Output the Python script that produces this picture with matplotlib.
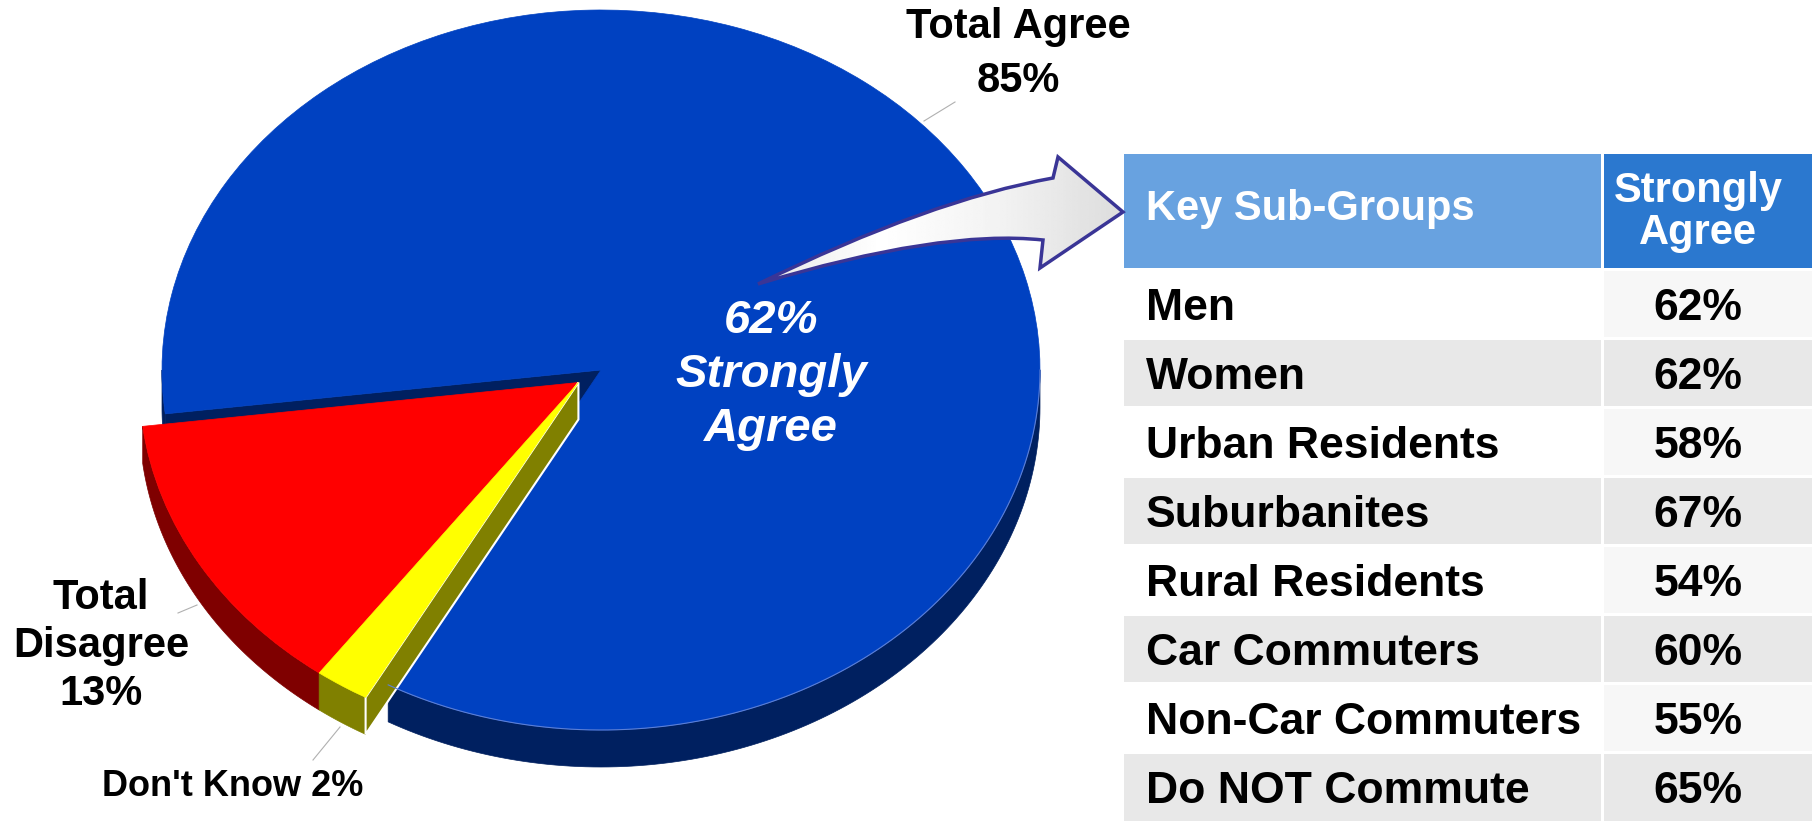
import numpy as np
import matplotlib.pyplot as plt
from matplotlib.patches import Wedge, Polygon, Rectangle, PathPatch
from matplotlib.path import Path
from matplotlib.transforms import Affine2D

plt.rcParams["font.family"] = ["Liberation Sans", "DejaVu Sans"]

# pie data
slice_labels = ["Total Agree", "Total Disagree", "Don't Know"]
slice_values = [85, 13, 2]
strongly_agree = 62

# table data
table_header = ["Key Sub-Groups", "Strongly\nAgree"]
groups = ["Men", "Women", "Urban Residents", "Suburbanites", "Rural Residents",
          "Car Commuters", "Non-Car Commuters", "Do NOT Commute"]
group_values = [62, 62, 58, 67, 54, 60, 55, 65]

top_colors = ["#0041C1", "#FF0000", "#FFFF00"]
side_colors = ["#002060", "#7F0000", "#808000"]

W, H = 1812, 821
fig = plt.figure(figsize=(W / 100, H / 100), dpi=100)
ax = fig.add_axes([0, 0, 1, 1])
ax.set_xlim(0, W)
ax.set_ylim(H, 0)
ax.axis("off")

# --- 3D-ish pie (tilted disc, pixel coords, y down) ---
cx, cy, a, b, depth = 601, 370, 439, 360, 37
start = 187
explode = 0.062


def rim(t, dx=0.0, dy=0.0):
    t = np.radians(t)
    return cx + a * np.cos(t) + dx, cy - b * np.sin(t) + dy


angles = {}
theta = start
for i in [1, 2, 0]:
    angles[i] = (theta, theta + slice_values[i] / 100 * 360)
    theta = angles[i][1]

# red + yellow pulled out together along their common bisector
mid = np.radians((angles[1][0] + angles[2][1]) / 2)
off = (explode * a * np.cos(mid), -explode * b * np.sin(mid))
offsets = {0: (0, 0), 1: off, 2: off}


def side_wall(t1, t2, dx, dy, color):
    for lo, hi in [(180, 360), (540, 720)]:
        s, e = max(t1, lo), min(t2, hi)
        if e > s:
            ts = np.linspace(s, e, 120)
            x, y = rim(ts, dx, dy)
            pts = np.column_stack([np.r_[x, x[::-1]], np.r_[y, y[::-1] + depth]])
            ax.add_patch(Polygon(pts, closed=True, fc=color, ec=color, lw=0.5))


def radial_face(t, dx, dy, color, ec=None, lw=0.5):
    x, y = rim(t, dx, dy)
    pts = [(cx + dx, cy + dy), (x, y), (x, y + depth), (cx + dx, cy + dy + depth)]
    ax.add_patch(Polygon(pts, closed=True, fc=color, ec=ec or color, lw=lw))


for i in [0, 1, 2]:
    t1, t2 = angles[i]
    dx, dy = offsets[i]
    side_wall(t1, t2, dx, dy, side_colors[i])
    # radial face at the end angle faces the viewer
    radial_face(t2 % 360, dx, dy, side_colors[i],
                ec="white" if i == 2 else None, lw=1.5 if i == 2 else 0.5)
    tr = Affine2D().scale(a, -b).translate(cx + dx, cy + dy) + ax.transData
    ax.add_patch(Wedge((0, 0), 1, t1, t2, transform=tr,
                       fc=top_colors[i], ec=top_colors[i], lw=0.5))

# thin highlight on the blue rim
ts = np.linspace(241, 360, 200)
x, y = rim(ts)
ax.plot(x, y, color="#5C7FD6", lw=0.8)

# --- pie labels ---
lbl_kw = dict(fontsize=30, fontweight="bold", ha="center", va="center", color="black")
ax.text(1018, 54, f"{slice_labels[0]}\n{slice_values[0]}%", linespacing=1.45, **lbl_kw)
ax.text(101, 646, f"{slice_labels[1].replace(' ', chr(10))}\n{slice_values[1]}%",
        linespacing=1.27, **lbl_kw)
ax.text(233, 786, f"{slice_labels[2]} {slice_values[2]}%", fontsize=26,
        fontweight="bold", ha="center", va="center", color="black")

for (x0, y0), (x1, y1) in [((955, 102), (924, 121)),
                           ((178, 613), (197, 605)),
                           ((313, 760), (340, 727))]:
    ax.plot([x0, x1], [y0, y1], color="#B0B0B0", lw=0.8)

ax.text(771, 375, f"{strongly_agree}%\nStrongly\nAgree", fontsize=34,
        fontweight="bold", fontstyle="italic", color="white",
        ha="center", va="center", linespacing=1.3)

# --- curved arrow pointing at the table ---
verts = [(758, 284), (930, 200), (1053, 178), (1058, 157), (1123, 212),
         (1040, 268), (1043, 240), (940, 229), (758, 284), (758, 284)]
codes = [Path.MOVETO, Path.CURVE3, Path.CURVE3, Path.LINETO, Path.LINETO,
         Path.LINETO, Path.LINETO, Path.CURVE3, Path.CURVE3, Path.CLOSEPOLY]
arrow = PathPatch(Path(verts, codes), fc="none", ec="#3A3596", lw=2.5, zorder=6)
ax.add_patch(arrow)
gx = np.linspace(750, 1130, 200)
shade = np.interp(gx, [750, 880, 1000, 1130], [0.90, 1.0, 0.95, 0.86])
grad = np.tile(shade, (10, 1))
img = ax.imshow(grad, extent=(750, 1130, 290, 150), cmap="gray", vmin=0, vmax=1,
                aspect="auto", zorder=5, interpolation="bilinear")
img.set_clip_path(arrow)

# --- table ---
x_left, x_split, x_right = 1124, 1601, 1604
hdr_top, hdr_bot = 154, 268
row0, pitch, row_h = 271, 69, 66

ax.add_patch(Rectangle((x_left, hdr_top), x_split - x_left, hdr_bot - hdr_top,
                       fc="#68A2E0", ec="none"))
ax.add_patch(Rectangle((x_right, hdr_top), W - x_right + 10, hdr_bot - hdr_top,
                       fc="#2B78CF", ec="none"))
ax.text(1146, 220, table_header[0], fontsize=30, fontweight="bold",
        color="white", ha="left", va="baseline")
ax.text(1698, 212, table_header[1], fontsize=30, fontweight="bold",
        color="white", ha="center", va="center", linespacing=1.08)

for i, (g, v) in enumerate(zip(groups, group_values)):
    y0 = row0 + i * pitch
    shaded = i % 2 == 1
    extra = 30 if i == len(groups) - 1 else 0
    ax.add_patch(Rectangle((x_left, y0), x_split - x_left, row_h + extra,
                           fc="#E8E8E8" if shaded else "white", ec="none"))
    ax.add_patch(Rectangle((x_right, y0), W - x_right + 10, row_h + extra,
                           fc="#E8E8E8" if shaded else "#F7F7F7", ec="none"))
    base = y0 + row_h / 2 + 16
    ax.text(1146, base, g, fontsize=32, fontweight="bold", color="black",
            ha="left", va="baseline")
    ax.text(1698, base, f"{v}%", fontsize=32, fontweight="bold", color="black",
            ha="center", va="baseline")

ax.set_xlim(0, W)
ax.set_ylim(H, 0)
fig.savefig("out.png", dpi=100)
